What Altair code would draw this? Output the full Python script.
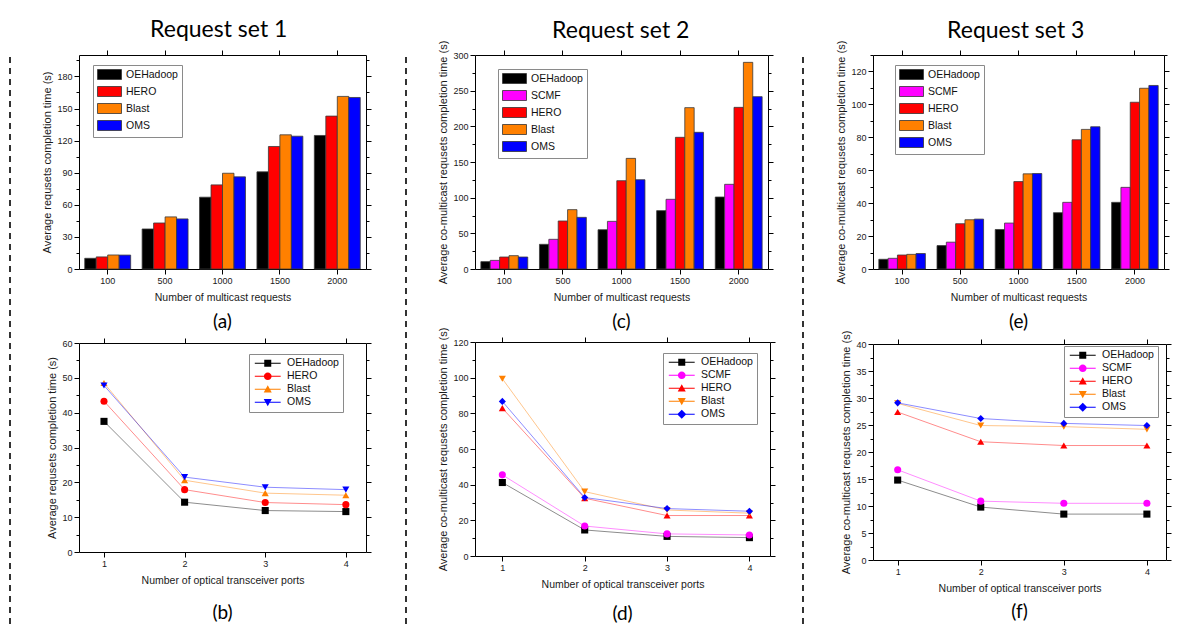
import altair as alt
import pandas as pd

# ---------------- data ----------------
categories = ["100", "500", "1000", "1500", "2000"]
ports = [1, 2, 3, 4]
series_set1 = ["OEHadoop", "HERO", "Blast", "OMS"]
series_set23 = ["OEHadoop", "SCMF", "HERO", "Blast", "OMS"]
series_colors = {"OEHadoop": "#000000", "SCMF": "#FF00FF", "HERO": "#FF0000",
                 "Blast": "#FF8000", "OMS": "#0000FF"}

# (a) Request set 1, bars
a_vals = {
    "OEHadoop": [10.0, 37.4, 67.1, 90.8, 124.8],
    "HERO": [11.3, 43.0, 78.6, 114.5, 142.9],
    "Blast": [13.1, 48.7, 89.5, 125.4, 161.3],
    "OMS": [13.0, 46.8, 86.1, 124.1, 160.3],
}
# (c) Request set 2, bars
c_vals = {
    "OEHadoop": [10.3, 34.6, 55.1, 81.8, 100.9],
    "SCMF": [12.1, 41.6, 66.8, 97.7, 118.7],
    "HERO": [16.8, 67.3, 123.8, 184.6, 226.6],
    "Blast": [18.7, 83.2, 155.1, 226.2, 289.7],
    "OMS": [16.8, 72.4, 125.2, 191.6, 241.6],
}
# (e) Request set 3, bars
e_vals = {
    "OEHadoop": [5.9, 14.2, 24.0, 34.2, 40.5],
    "SCMF": [6.5, 16.3, 27.9, 40.5, 49.6],
    "HERO": [8.5, 27.5, 53.1, 78.5, 101.3],
    "Blast": [8.9, 29.9, 57.8, 84.8, 109.8],
    "OMS": [9.4, 30.3, 58.0, 86.4, 111.5],
}
# (b) Request set 1, lines
b_vals = {
    "OEHadoop": [37.5, 14.3, 11.9, 11.6],
    "HERO": [43.3, 17.9, 14.2, 13.6],
    "Blast": [48.5, 20.6, 16.9, 16.3],
    "OMS": [47.8, 21.5, 18.6, 17.9],
}
# (d) Request set 2, lines
d_vals = {
    "OEHadoop": [41.2, 14.6, 11.0, 10.3],
    "SCMF": [45.5, 16.8, 12.4, 11.8],
    "HERO": [82.9, 32.4, 22.7, 22.7],
    "Blast": [99.4, 36.1, 25.8, 24.0],
    "OMS": [86.7, 32.8, 26.6, 25.1],
}
# (f) Request set 3, lines
f_vals = {
    "OEHadoop": [14.8, 9.8, 8.5, 8.5],
    "SCMF": [16.7, 10.9, 10.5, 10.5],
    "HERO": [27.4, 21.9, 21.2, 21.2],
    "Blast": [29.0, 24.9, 24.7, 24.2],
    "OMS": [29.1, 26.2, 25.3, 24.9],
}

shapes4 = ["square", "circle", "triangle-up", "triangle-down"]
shapes5 = ["square", "circle", "triangle-up", "triangle-down", "diamond"]

LINE = "M-3.7,-0.14H3.7V0.14H-3.7Z"
MARK = {
    "square": "M-1,-1H1V1H-1Z",
    "circle": "M-1.1,0A1.1,1.1 0 1,1 1.1,0A1.1,1.1 0 1,1 -1.1,0Z",
    "triangle-up": "M0,-1.15L1.15,0.9L-1.15,0.9Z",
    "triangle-down": "M0,1.15L-1.15,-0.9L1.15,-0.9Z",
    "diamond": "M0,-1.3L1.3,0L0,1.3L-1.3,0Z",
}
BAR_SYMBOL = "M-2.4,-1H2.4V1H-2.4Z"

LABEL_FONT = "Liberation Sans"
TITLE_FONT = "Lato"


def y_axis(step, ymax, orient, title=None, labels=True):
    vals = []
    k = 0
    while k * step / 2 <= ymax + 1e-9:
        vals.append(k * step / 2)
        k += 1
    return alt.Axis(
        orient=orient, values=vals, title=title, labels=labels,
        labelExpr=f"datum.value % {step} === 0 ? datum.label : ''",
        tickSize={"condition": {"test": f"datum.value % {step} === 0", "value": 5}, "value": 3},
        grid=False, titleFontSize=11, titlePadding=4,
    )


def caption(text, offset):
    return alt.Title(text, orient="bottom", anchor="middle", fontSize=19, font=TITLE_FONT,
                     fontWeight="normal", color="black", offset=offset)


def bar_panel(vals, series, ymax, step, ytitle, cap, lx, ly, w, h, cap_off):
    rows = [{"req": c, "series": s, "time": vals[s][i]}
            for s in series for i, c in enumerate(categories)]
    df = pd.DataFrame(rows)
    colors = [series_colors[s] for s in series]
    xsc = alt.Scale(domain=categories, paddingInner=0.2, paddingOuter=0.1)
    ysc = alt.Scale(domain=[0, ymax], nice=False)
    leg = alt.Legend(orient="none", legendX=lx, legendY=ly, title=None,
                     strokeColor="#8a8a8a", fillColor="white", padding=4, rowPadding=2,
                     labelFont=LABEL_FONT, labelFontSize=10.5, labelColor="#111111",
                     symbolType=BAR_SYMBOL, symbolSize=100, symbolOffset=7, labelOffset=11,
                     symbolStrokeColor="#333333", symbolStrokeWidth=0.8)
    bars = alt.Chart(df).mark_bar(stroke="#3a3a3a", strokeWidth=0.8).encode(
        x=alt.X("req:N", scale=xsc, sort=categories,
                axis=alt.Axis(orient="bottom", title="Number of multicast requests",
                              labelAngle=0, tickSize=5, grid=False, titlePadding=7)),
        xOffset=alt.XOffset("series:N", sort=series,
                            scale=alt.Scale(domain=series, paddingInner=0, paddingOuter=0)),
        y=alt.Y("time:Q", scale=ysc, axis=y_axis(step, ymax, "left", ytitle)),
        color=alt.Color("series:N", sort=series,
                        scale=alt.Scale(domain=series, range=colors), legend=leg),
    )
    frame = alt.Chart(df).mark_point(opacity=0).encode(
        x=alt.X("req:N", scale=xsc, sort=categories,
                axis=alt.Axis(orient="top", title=None, labels=False, tickSize=5, grid=False)),
        y=alt.Y("time:Q", scale=ysc, axis=y_axis(step, ymax, "right", None, labels=False)),
    )
    return alt.layer(bars, frame).resolve_axis(x="independent", y="independent").properties(
        width=w, height=h, title=caption(cap, cap_off))


def line_panel(vals, series, shapes, ymax, step, ytitle, cap, lx, ly, w, h, xdom, cap_off):
    rows = [{"port": p, "series": s, "time": vals[s][i]}
            for s in series for i, p in enumerate(ports)]
    df = pd.DataFrame(rows)
    colors = [series_colors[s] for s in series]
    legend_paths = [LINE + MARK[sh] for sh in shapes]
    xsc = alt.Scale(domain=xdom, nice=False, zero=False)
    ysc = alt.Scale(domain=[0, ymax], nice=False)
    leg = alt.Legend(orient="none", legendX=lx, legendY=ly, title=None,
                     strokeColor="#8a8a8a", fillColor="white", padding=4, rowPadding=2,
                     labelFont=LABEL_FONT, labelFontSize=10.5, labelColor="#111111",
                     symbolSize=49, symbolOffset=9.5, labelOffset=14, symbolOpacity=1,
                     symbolStrokeWidth=0)
    # invisible layer that carries the axes on top/right and the legend
    legend_layer = alt.Chart(df).mark_point(filled=True, opacity=0).encode(
        x=alt.X("port:Q", scale=xsc,
                axis=alt.Axis(orient="top", values=ports, labels=False, title=None,
                              tickSize=5, grid=False)),
        y=alt.Y("time:Q", scale=ysc, axis=y_axis(step, ymax, "right", None, labels=False)),
        color=alt.Color("series:N", sort=series,
                        scale=alt.Scale(domain=series, range=colors), legend=leg),
        shape=alt.Shape("series:N", sort=series,
                        scale=alt.Scale(domain=series, range=legend_paths), legend=leg),
    )
    layers = [legend_layer]
    first = True
    for s, sh in zip(series, shapes):
        sub = alt.Chart(df).transform_filter(alt.datum.series == s)
        if first:
            xenc = alt.X("port:Q", scale=xsc,
                         axis=alt.Axis(orient="bottom", values=ports, format="d", tickSize=5,
                                       title="Number of optical transceiver ports", grid=False,
                                       titlePadding=7))
            yenc = alt.Y("time:Q", scale=ysc, axis=y_axis(step, ymax, "left", ytitle))
            first = False
        else:
            xenc = alt.X("port:Q", scale=xsc, axis=None)
            yenc = alt.Y("time:Q", scale=ysc, axis=None)
        layers.append(sub.mark_line(strokeWidth=1, opacity=0.45, color=series_colors[s])
                      .encode(x=xenc, y=yenc))
    for s, sh in zip(series, shapes):
        layers.append(
            alt.Chart(df).transform_filter(alt.datum.series == s)
            .mark_point(filled=True, size=50, opacity=1, shape=sh, color=series_colors[s])
            .encode(x=alt.X("port:Q", scale=xsc, axis=None),
                    y=alt.Y("time:Q", scale=ysc, axis=None)))
    return alt.layer(*layers).resolve_axis(
        x="independent", y="independent").properties(width=w, height=h, title=caption(cap, cap_off))


def separator(w, x, h=612):
    return alt.Chart(pd.DataFrame({"k": [0]})).mark_rule(
        color="black", strokeDash=[6, 5], strokeWidth=1.6).encode(
        x=alt.value(x), y=alt.value(2), y2=alt.value(h)).properties(width=w, height=h)


RES = dict(color="independent", fill="independent", shape="independent",
           xOffset="independent")
LRES = dict(color="independent", fill="independent", shape="independent")


def column(top, bottom, title, spacing, toff, tdx):
    return alt.vconcat(top, bottom, spacing=spacing,
                       title=alt.Title(title, fontSize=23, font=TITLE_FONT, fontWeight="normal",
                                       anchor="middle", color="black", offset=toff, dx=tdx)
                       ).resolve_scale(**RES).resolve_legend(**LRES)


YT1 = "Average requsets completion time (s)"
YT2 = "Average co-multicast requsets completion time (s)"

pa = bar_panel(a_vals, series_set1, 200, 30, YT1, "(a)", 14, 10, 287, 214, 10)
pc = bar_panel(c_vals, series_set23, 300, 50, YT2, "(c)", 23, 14, 293, 214, 10)
pe = bar_panel(e_vals, series_set23, 130, 20, YT2, "(e)", 22, 10, 291, 214, 10)
pb = line_panel(b_vals, series_set1, shapes4, 60, 10, YT1, "(b)", 170, 11, 287, 209,
                [0.69, 4.25], 18)
pd_ = line_panel(d_vals, series_set23, shapes5, 120, 20, YT2, "(d)", 188, 11, 295, 214,
                 [0.668, 4.25], 15)
pf = line_panel(f_vals, series_set23, shapes5, 40, 5, YT2, "(f)", 191, 2, 293, 216,
                [0.703, 4.23], 9)

col1 = column(pa, pb, "Request set 1", 5, 8, 12)
col2 = column(pc, pd_, "Request set 2", -5, -3, 14)
col3 = column(pe, pf, "Request set 3", -2, -3, 12)

chart = alt.hconcat(
    separator(33, 2), col1, separator(65, 34), col2, separator(59, 27), col3, spacing=0
).resolve_scale(**RES).resolve_legend(**LRES).properties(
    padding={"top": 10, "left": 0, "right": 0, "bottom": 0}
).configure_view(stroke=None).configure_axis(
    labelFont=LABEL_FONT, labelFontSize=9, labelColor="#1a1a1a", labelPadding=2,
    titleFont=LABEL_FONT, titleFontSize=10.5, titleFontWeight="normal", titleColor="#1a1a1a",
    titlePadding=4, domainColor="black", tickColor="black", domainWidth=1, tickWidth=1,
)

chart.save("out.html", embed_options={"renderer": "svg", "actions": False})
